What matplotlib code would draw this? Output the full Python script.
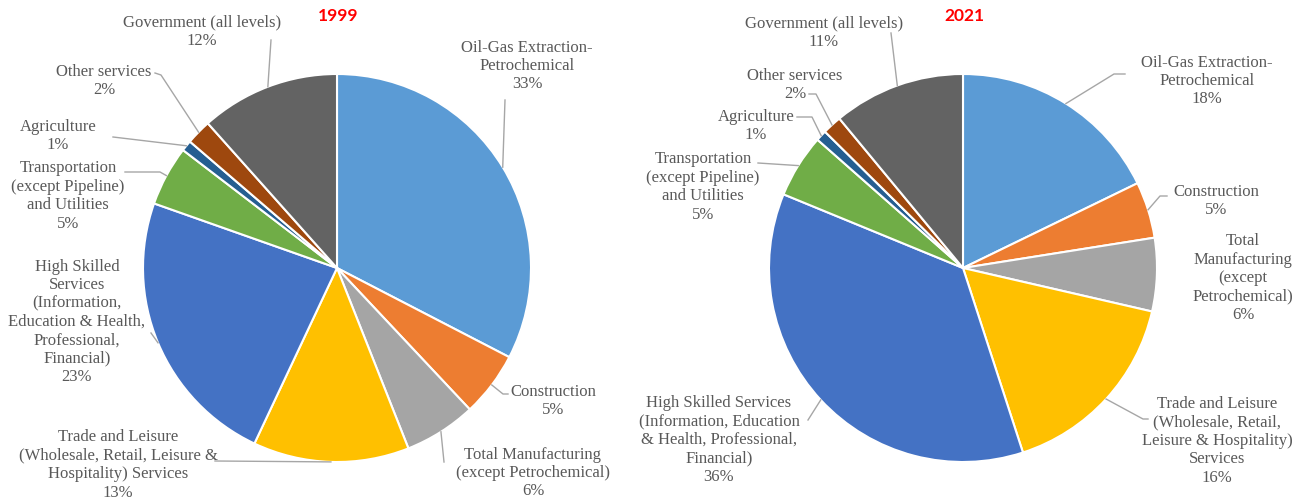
"""Employment share by sector, 1999 vs 2021 (two pie charts)."""

import math

import matplotlib.pyplot as plt

# ---- data -------------------------------------------------------------
sectors = [
    "Oil-Gas Extraction-Petrochemical",
    "Construction",
    "Total Manufacturing (except Petrochemical)",
    "Trade and Leisure",
    "High Skilled Services",
    "Transportation and Utilities",
    "Agriculture",
    "Other services",
    "Government (all levels)",
]
share_1999 = [32.6, 5.4, 6.0, 13.0, 23.4, 5.0, 0.9, 2.1, 11.6]
share_2021 = [17.8, 4.7, 6.1, 16.4, 36.2, 5.3, 0.9, 1.6, 11.0]

labels_1999 = [
    "Oil-Gas Extraction-\nPetrochemical",
    "Construction",
    "Total Manufacturing\n(except Petrochemical)",
    "Trade and Leisure\n(Wholesale, Retail, Leisure &\nHospitality) Services",
    "High Skilled\nServices\n(Information,\nEducation & Health,\nProfessional,\nFinancial)",
    "Transportation\n(except Pipeline)\nand Utilities",
    "Agriculture",
    "Other services",
    "Government (all levels)",
]
labels_2021 = [
    "Oil-Gas Extraction-\nPetrochemical",
    "Construction",
    "Total\nManufacturing\n(except\nPetrochemical)",
    "Trade and Leisure\n(Wholesale, Retail,\nLeisure & Hospitality)\nServices",
    "High Skilled Services\n(Information, Education\n& Health, Professional,\nFinancial)",
    "Transportation\n(except Pipeline)\nand Utilities",
    "Agriculture",
    "Other services",
    "Government (all levels)",
]

colors = ["#5B9BD5", "#ED7D31", "#A5A5A5", "#FFC000", "#4472C4",
          "#70AD47", "#255E91", "#9E480E", "#636363"]

# ---- layout (pixel coords, y measured from top) ------------------------
W, H = 1297, 501
R = 194
# label centre, leader elbow points (label side first)
layout_1999 = [
    ((527, 66), [(505, 100)]),
    ((553, 401), [(508, 394), (503, 394)]),
    ((533, 473), [(444, 462)]),
    ((118, 465), [(215, 461)]),
    ((77, 322), [(151, 333)]),
    ((68, 196), [(125, 172), (160, 172)]),
    ((58, 136), [(113, 137)]),
    ((104, 81), [(155, 73), (161, 75)]),
    ((202, 32), [(271, 40)]),
]
layout_2021 = [
    ((1207, 81), [(1125, 74), (1114, 74)]),
    ((1216, 201), [(1167, 196), (1160, 196)]),
    ((1243, 278), None),
    ((1217, 441), [(1148, 419), (1143, 419)]),
    ((719, 440), [(808, 420)]),
    ((703, 187), [(758, 163)]),
    ((756, 126), [(797, 117), (812, 117)]),
    ((795, 85), [(809, 94), (816, 94)]),
    ((824, 33), [(891, 33)]),
]

TEXT_FONT = dict(family="Liberation Serif", size=12, color="#595959")
LEADER_COLOR = "#A6A6A6"

fig = plt.figure(figsize=(W / 100, H / 100), dpi=100)
ax = fig.add_axes([0, 0, 1, 1])


def draw_pie(values, names, layout, center, year):
    cx, cy = center
    wedges, _ = ax.pie(values, colors=colors, startangle=90, counterclock=False,
                       center=(cx, H - cy), radius=R,
                       wedgeprops=dict(edgecolor="white", linewidth=1.5))
    total = sum(values)
    for wedge, v, name, (pos, elbow) in zip(wedges, values, names, layout):
        ax.text(pos[0], H - pos[1], f"{name}\n{v / total * 100:.0f}%",
                ha="center", va="center", linespacing=1.2, **TEXT_FONT)
        if elbow is None:
            continue
        # leader goes to the wedge edge at its mid angle
        mid = math.radians((wedge.theta1 + wedge.theta2) / 2)
        ex = wedge.center[0] + wedge.r * math.cos(mid)
        ey = wedge.center[1] + wedge.r * math.sin(mid)
        xs = [p[0] for p in elbow] + [ex]
        ys = [H - p[1] for p in elbow] + [ey]
        ax.plot(xs, ys, color=LEADER_COLOR, lw=1, zorder=3)
    ax.text(cx + 1, H - 16, year, ha="center", va="center",
            family="Lato", fontweight="bold", fontsize=12.5, color="#FF0000")


draw_pie(share_1999, labels_1999, layout_1999, (337, 268), "1999")
draw_pie(share_2021, labels_2021, layout_2021, (963, 268), "2021")

ax.set_xlim(0, W)
ax.set_ylim(0, H)
ax.set_aspect("equal")
ax.axis("off")

fig.savefig("out.png", dpi=100, facecolor="white")
